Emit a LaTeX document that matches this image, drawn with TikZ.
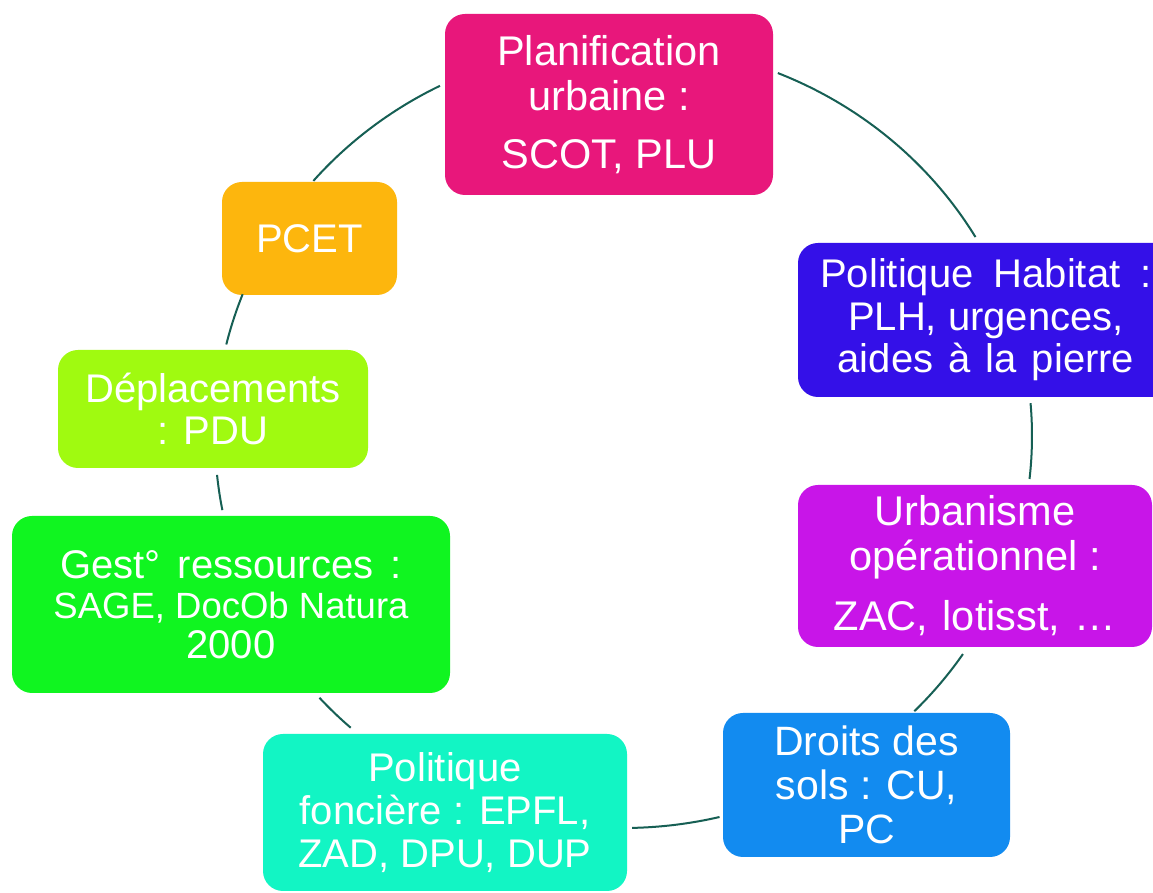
\documentclass[tikz,border=0pt]{standalone}
\usepackage{fontspec}
\setmainfont{Liberation Sans}
\definecolor{cPlan}{RGB}{232,23,123}
\definecolor{cHab}{RGB}{52,16,232}
\definecolor{cUrb}{RGB}{200,21,232}
\definecolor{cDroit}{RGB}{18,139,240}
\definecolor{cFonc}{RGB}{18,245,196}
\definecolor{cGest}{RGB}{16,245,32}
\definecolor{cDepl}{RGB}{160,250,16}
\definecolor{cPcet}{RGB}{253,182,13}
\definecolor{linkcol}{RGB}{22,95,84}
\begin{document}
\begin{tikzpicture}[x=1pt,y=1pt,
  box/.style={rectangle, rounded corners=20pt, text=white, align=center,
    inner sep=0pt, font=\fontsize{41.5}{45}\selectfont},
  link/.style={draw=linkcol, line width=2pt},
  ring/.style={x radius=408.5pt, y radius=392pt},
]
\useasboundingbox (0,0) rectangle (1153,893);
\fill[white] (0,0) rectangle (1153,893);
\clip (0,0) rectangle (1153,893);

% boxes of the cycle
\node[box, fill=cPlan, minimum width=328pt, minimum height=181pt]
  (plan) at (609,788.5) {Planification\\urbaine :\\[13pt]SCOT, PLU};
\node[box, fill=cHab, minimum width=376pt, minimum height=154pt,
  font=\fontsize{40}{42.5}\selectfont]
  (hab) at (986,573) {Politique\hspace{9pt} Habitat\hspace{9pt} :\\PLH, urgences,\\aides\hspace{4pt} à\hspace{4pt} la\hspace{4pt} pierre};
\node[box, fill=cUrb, minimum width=354pt, minimum height=162pt]
  (urb) at (975,327) {Urbanisme\\opérationnel :\\[15pt]ZAC,\hspace{3pt} lotisst,\hspace{3pt} …};
\node[box, fill=cDroit, minimum width=287pt, minimum height=144pt,
  font=\fontsize{41}{44}\selectfont]
  (droit) at (866.5,108) {Droits des\\sols : CU,\\PC};
\node[box, fill=cFonc, minimum width=364pt, minimum height=157pt,
  font=\fontsize{40}{43}\selectfont]
  (fonc) at (445,80.5) {Politique\\foncière : EPFL,\\ZAD, DPU, DUP};
\node[box, fill=cGest, minimum width=438pt, minimum height=177pt,
  font=\fontsize{40}{40}\selectfont]
  (gest) at (231,288.5) {Gest°\hspace{6pt} ressources\hspace{6pt} :\\\fontsize{36.5}{40}\selectfont SAGE, DocOb Natura\\2000};
\node[box, fill=cDepl, minimum width=310pt, minimum height=118pt,
  font=\fontsize{40}{42}\selectfont]
  (depl) at (213,484) {Déplacements\\: PDU};
\node[box, fill=cPcet, minimum width=175pt, minimum height=113pt,
  font=\fontsize{40}{44}\selectfont]
  (pcet) at (309.5,654.5) {PCET};

% the ring joining the boxes
\coordinate (O) at (623.5,457);
\path (O) ++(67.8:408.5pt and 392pt)   coordinate (planOut)
      (O) ++(4.8:408.5pt and 392pt)    coordinate (habOut)
      (O) ++(-33.8:408.5pt and 392pt)  coordinate (urbOut)
      (O) ++(-76.4:408.5pt and 392pt)  coordinate (droitOut)
      (O) ++(-131.9:408.5pt and 392pt) coordinate (foncOut)
      (O) ++(190.9:408.5pt and 392pt)  coordinate (gestOut)
      (O) ++(166.5:408.5pt and 392pt)  coordinate (deplOut)
      (O) ++(139.4:408.5pt and 392pt)  coordinate (pcetOut);
\draw[link] (planOut)  arc[start angle=67.8,   end angle=30.5,   ring];
\draw[link] (habOut)   arc[start angle=4.8,    end angle=-6.3,   ring];
\draw[link] (urbOut)   arc[start angle=-33.8,  end angle=-44.6,  ring];
\draw[link] (droitOut) arc[start angle=-76.4,  end angle=-88.8,  ring];
\draw[link] (foncOut)  arc[start angle=-131.9, end angle=-138.1, ring];
\draw[link] (gestOut)  arc[start angle=190.9,  end angle=185.7,  ring];
\draw[link] (deplOut)  arc[start angle=166.5,  end angle=158.8,  ring];
\draw[link] (pcetOut)  arc[start angle=139.4,  end angle=116.7,  ring];
\end{tikzpicture}
\end{document}
